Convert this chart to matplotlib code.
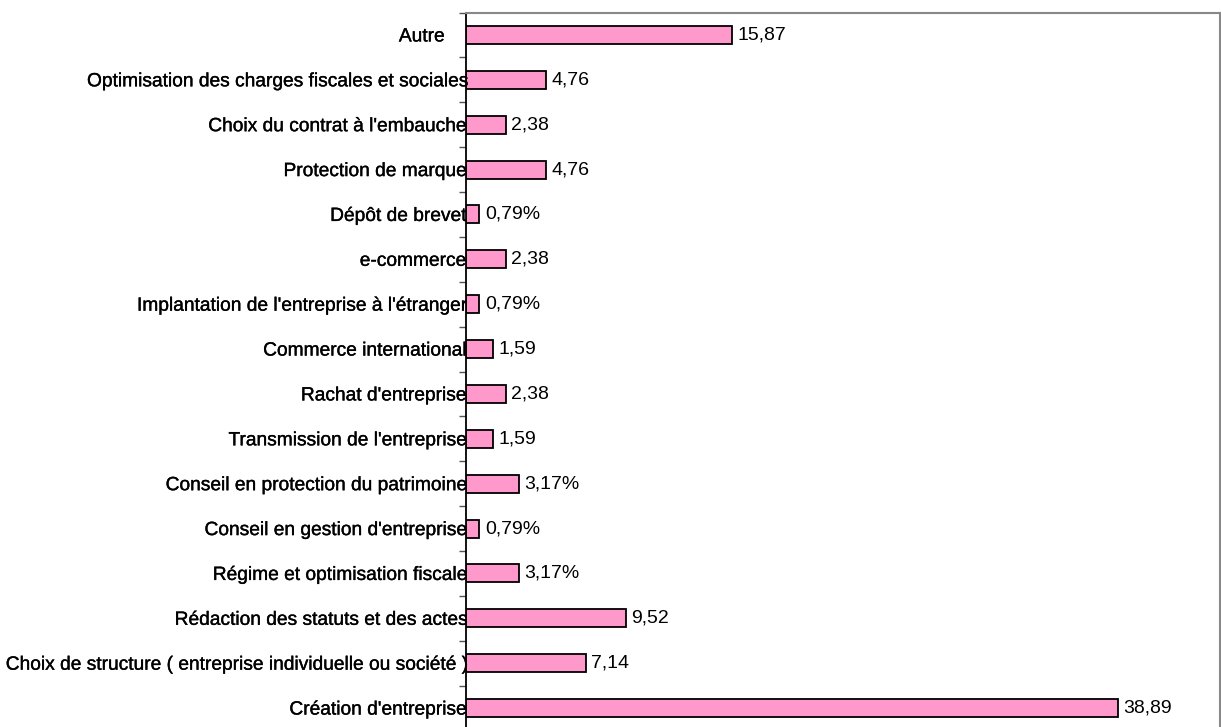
import matplotlib
matplotlib.use("Agg")
import matplotlib.pyplot as plt
import matplotlib.patheffects as pe
import numpy as np

categories = [
    "Autre    ",
    "Optimisation des charges fiscales et sociales",
    "Choix du contrat à l'embauche",
    "Protection de marque",
    "Dépôt de brevet",
    "e-commerce",
    "Implantation de l'entreprise à l'étranger",
    "Commerce international",
    "Rachat d'entreprise",
    "Transmission de l'entreprise",
    "Conseil en protection du patrimoine",
    "Conseil en gestion d'entreprise",
    "Régime et optimisation fiscale",
    "Rédaction des statuts et des actes",
    "Choix de structure ( entreprise individuelle ou société )",
    "Création d'entreprise",
]
values = [15.87, 4.76, 2.38, 4.76, 0.79, 2.38, 0.79, 1.59, 2.38, 1.59,
          3.17, 0.79, 3.17, 9.52, 7.14, 38.89]
value_labels = ["15,87", "4,76", "2,38", "4,76", "0,79%", "2,38", "0,79%", "1,59",
                "2,38", "1,59", "3,17%", "0,79%", "3,17%", "9,52", "7,14", "38,89"]

plt.rcParams['font.family'] = ['Liberation Sans', 'DejaVu Sans']

fig = plt.figure(figsize=(12.21, 7.27), dpi=100)
ax = fig.add_axes([466/1221, -3.5/727, 754/1221, 718/727])

y = np.arange(len(categories))
ax.barh(y, values, height=0.4, color="#FF99CC", edgecolor="black", linewidth=1.3, zorder=1)
ax.set_xlim(0, 45)
ax.set_ylim(len(categories) - 0.5, -0.5)

for yi, v, lab in zip(y, values, value_labels):
    ax.text(v + 0.33, yi, lab, va="center", ha="left", fontsize=14, color="black")

ax.set_yticks(y)
ax.set_yticklabels(categories, fontsize=13.8)
for t in ax.get_yticklabels():
    t.set_path_effects([pe.withStroke(linewidth=0.25, foreground="black")])
ax.tick_params(axis="y", which="major", length=0, pad=0)
ax.set_yticks(np.arange(-0.5, len(categories) + 0.5, 1), minor=True)
ax.tick_params(axis="y", which="minor", length=5, width=1, color="#555555")
ax.set_xticks([])

ax.spines["left"].set_color("black")
ax.spines["left"].set_linewidth(1.3)
ax.spines["top"].set_color("#888888")
ax.spines["right"].set_color("#888888")
ax.spines["top"].set_linewidth(1.5)
ax.spines["right"].set_linewidth(1.5)
ax.spines["bottom"].set_visible(False)

fig.savefig("out.png", dpi=100)
